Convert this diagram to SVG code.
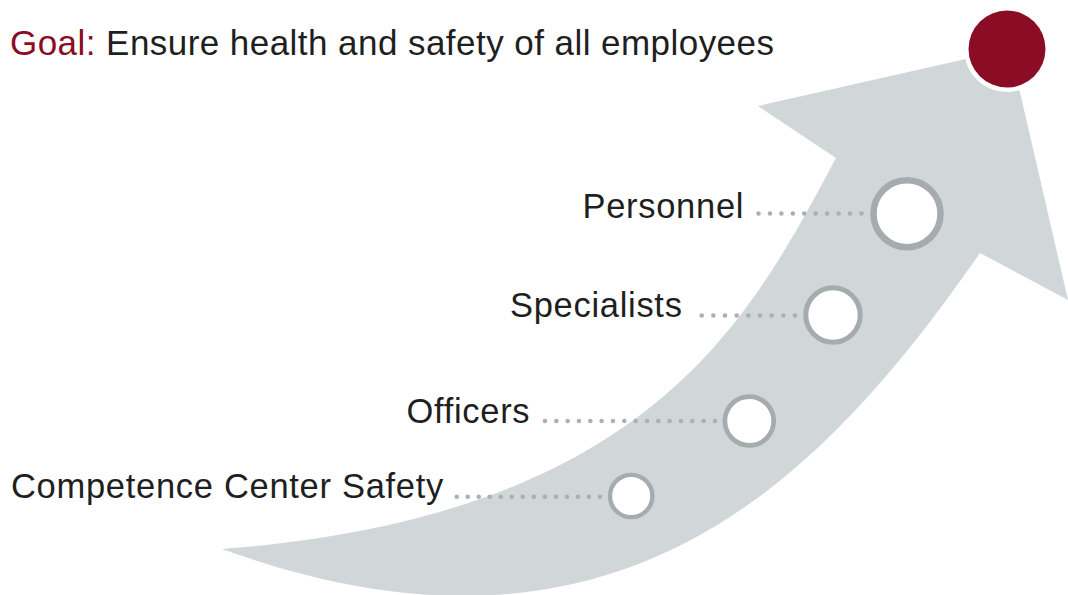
<svg xmlns="http://www.w3.org/2000/svg" width="1068" height="595" viewBox="0 0 1068 595">
  <style>
    .lbl { font-family: "Liberation Sans", Arial, sans-serif; font-size: 34.5px; letter-spacing: 0.7px; fill: #1f1f1f; }
    .ring { fill: #ffffff; stroke: #a6abae; }
    .dots { fill: none; stroke: #abb0b3; stroke-width: 4.6; stroke-linecap: round; }
  </style>
  <rect width="1068" height="595" fill="#ffffff"/>
  <g id="arrow">
    <path d="M222,549 C652,516 750,318 836,158 L758,106 L1010,49 L1068,300 L980,253 C820,483 617,692 222,549 Z" fill="#d1d6d9"/>
  </g>
  <g id="title">
    <text x="10" y="55" class="lbl" style="font-size:35px;letter-spacing:0.45px"><tspan fill="#8a0d25">Goal:</tspan> Ensure health and safety of all employees</text>
  </g>
  <g id="goal">
    <circle cx="1007" cy="49" r="43" fill="#ffffff"/>
    <circle cx="1007" cy="49" r="38.5" fill="#8a0d25"/>
  </g>
  <g id="connectors">
    <line class="dots" x1="758.5" y1="213.5" x2="861.5" y2="213.5" stroke-dasharray="0 11.44"/>
    <line class="dots" x1="701.7" y1="315.5" x2="795" y2="315.5" stroke-dasharray="0 11.66"/>
    <line class="dots" x1="545" y1="421" x2="715" y2="421" stroke-dasharray="0 11.33"/>
    <line class="dots" x1="456.7" y1="496.7" x2="600" y2="496.7" stroke-dasharray="0 11.02"/>
  </g>
  <g id="personnel">
    <circle class="ring" cx="907" cy="213.7" r="33.5" stroke-width="6.5"/>
    <text class="lbl" x="582.5" y="217.5">Personnel</text>
  </g>
  <g id="specialists">
    <circle class="ring" cx="833" cy="315" r="27.2" stroke-width="5"/>
    <text class="lbl" x="510" y="316.5">Specialists</text>
  </g>
  <g id="officers">
    <circle class="ring" cx="749.3" cy="421" r="24.4" stroke-width="4.7"/>
    <text class="lbl" x="406.5" y="423">Officers</text>
  </g>
  <g id="ccs">
    <circle class="ring" cx="631.2" cy="496" r="21.2" stroke-width="4.3"/>
    <text class="lbl" x="11" y="497.5">Competence Center Safety</text>
  </g>
</svg>
